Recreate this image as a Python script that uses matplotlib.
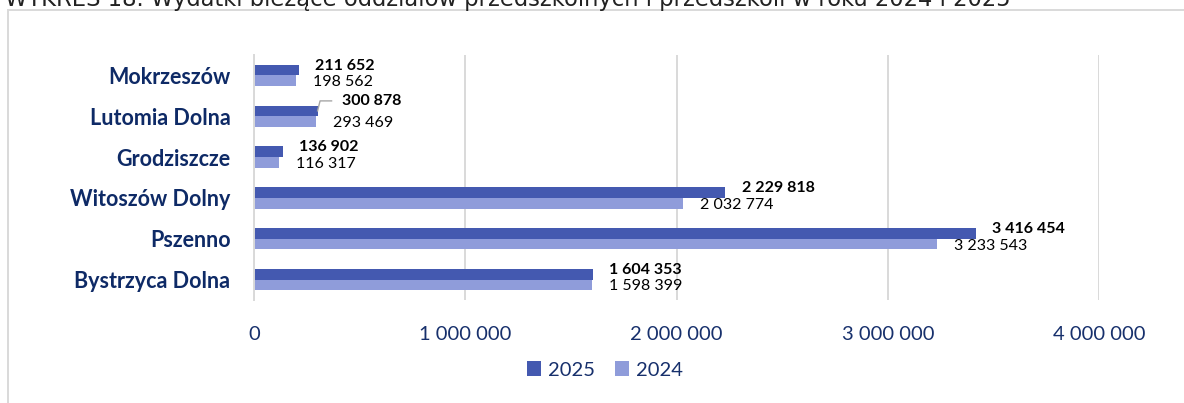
import matplotlib
matplotlib.use("Agg")
import matplotlib.pyplot as plt
from matplotlib.patches import Rectangle, Patch
from matplotlib.lines import Line2D
from matplotlib.ticker import FuncFormatter

categories = ["Mokrzeszów", "Lutomia Dolna", "Grodziszcze", "Witoszów Dolny", "Pszenno", "Bystrzyca Dolna"]
values_2025 = [211652, 300878, 136902, 2229818, 3416454, 1604353]
values_2024 = [198562, 293469, 116317, 2032774, 3233543, 1598399]
series_names = ["2025", "2024"]
x_ticks = [0, 1000000, 2000000, 3000000, 4000000]
title = "WYKRES 18. Wydatki bieżące oddziałów przedszkolnych i przedszkoli w roku 2024 i 2025"

C25 = "#4459B0"
C24 = "#8F9CDA"
NAVY = "#0E2A66"
TICKC = "#17306C"
GRID = "#D9D9D9"

W, H, DPI = 1184, 403, 100
fig = plt.figure(figsize=(W / DPI, H / DPI), dpi=DPI)
fig.patch.set_facecolor("white")

# outer frame (extends beyond the image on right/bottom)
fig.patches.append(Rectangle((8 / W, -0.1), 1.2, 1 - 10 / H + 0.1, transform=fig.transFigure,
                             fill=False, edgecolor=GRID, linewidth=1.4))
fig.text(5 / W, 1 - 6 / H, title, fontsize=16.3, family="DejaVu Sans", color="#222222",
         va="baseline", ha="left")

ax = fig.add_axes([254 / W, 1 - 300 / H, (1099 - 254) / W, 245 / H])
n = len(categories)
ys = list(range(n))
bh = 0.262
y25 = [y - bh / 2 for y in ys]
y24 = [y + bh / 2 for y in ys]
ax.barh(y25, values_2025, height=bh, color=C25, zorder=3)
ax.barh(y24, values_2024, height=bh, color=C24, zorder=3)
ax.set_ylim(n - 0.5, -0.5)
ax.set_xlim(x_ticks[0], x_ticks[-1])
ax.set_xticks(x_ticks)
ax.xaxis.set_major_formatter(FuncFormatter(lambda v, p: f"{int(v):,}".replace(",", " ")))
ax.set_yticks(ys)
ax.set_yticklabels(categories, fontsize=15.5, fontweight="bold", color=NAVY, family="Lato")
for lab in ax.get_xticklabels():
    lab.set_fontsize(14.5)
    lab.set_color(TICKC)
    lab.set_family("Lato")
ax.tick_params(axis="x", length=0, pad=19)
ax.tick_params(axis="y", length=0, pad=17)
for s in ["top", "right", "bottom"]:
    ax.spines[s].set_visible(False)
ax.spines["left"].set_color(GRID)
ax.spines["left"].set_linewidth(1.4)
ax.spines["left"].set_zorder(4)
ax.grid(axis="x", color=GRID, linewidth=1.4, zorder=0)
ax.set_axisbelow(True)

fmt = lambda v: f"{v:,}".replace(",", " ")
special = {1: (24, 10)}  # Lutomia Dolna 2025 label moved with leader line
for i in range(n):
    dx, dy = special.get(i, (16.5, 4.5))
    ax.annotate(fmt(values_2025[i]), xy=(values_2025[i], y25[i]), xytext=(dx, dy),
                textcoords="offset pixels", ha="left", va="center", fontsize=11.5,
                fontweight="bold", color="black", family="Lato", zorder=5)
    ax.annotate(fmt(values_2024[i]), xy=(values_2024[i], y24[i]), xytext=(17, -1.5),
                textcoords="offset pixels", ha="left", va="center", fontsize=11.5,
                color="black", family="Lato", zorder=5)

# leader line for the moved label
i = 1
px, py = ax.transData.transform((values_2025[i], y25[i]))
pts = [(px, py), (px + 2.5, py + 10), (px + 14, py + 10)]
fpts = [fig.transFigure.inverted().transform(p) for p in pts]
fig.lines.append(Line2D([p[0] for p in fpts], [p[1] for p in fpts], transform=fig.transFigure,
                        color="#A6A6A6", linewidth=1.0))

handles = [Patch(facecolor=C25, edgecolor="none"), Patch(facecolor=C24, edgecolor="none")]
leg = fig.legend(handles, series_names, loc="center", bbox_to_anchor=(605 / W, 1 - 370 / H),
                 ncol=2, frameon=False, handlelength=0.7, handleheight=0.7, handletextpad=0.35,
                 columnspacing=1.0, prop={"family": "Lato", "size": 14.5})
for t in leg.get_texts():
    t.set_color(TICKC)

fig.savefig("out.png", dpi=DPI)
